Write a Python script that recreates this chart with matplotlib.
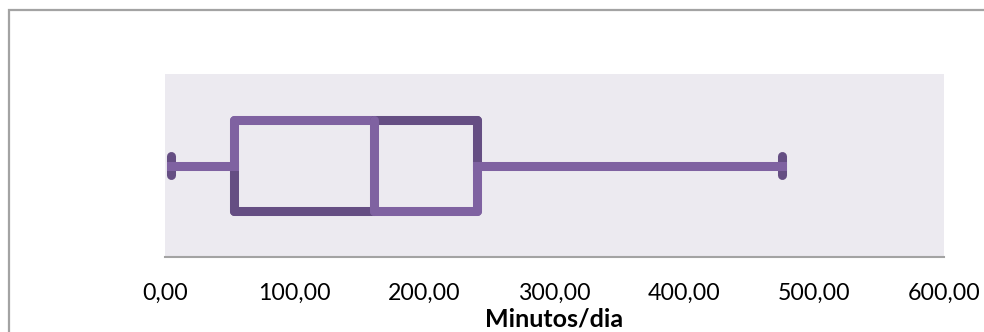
import matplotlib
matplotlib.use("Agg")
import matplotlib.pyplot as plt
from matplotlib.patches import Rectangle

# ---- data (minutes/day) ----
stat_min = 5
stat_q1 = 53
stat_median = 161
stat_q3 = 240
stat_max = 475
tick_values = [0, 100, 200, 300, 400, 500, 600]
tick_labels = ["0,00", "100,00", "200,00", "300,00", "400,00", "500,00", "600,00"]
x_label = "Minutos/dia"

light = "#7F62A1"
dark = "#654E83"
bg = "#ECEAF0"
gray = "#A3A3A3"

plt.rcParams['font.family'] = ['Lato', 'DejaVu Sans']

W, H = 984, 332
fig = plt.figure(figsize=(W / 100, H / 100), dpi=100)
ax = fig.add_axes([165 / W, 75 / H, (944 - 165) / W, (257 - 74) / H])
ax.set_facecolor(bg)
ax.set_xlim(0, 600)
ax.set_ylim(0, 1)

y_lo, y_mid, y_hi = 0.25, 0.5, 0.75
cap_lo, cap_hi = 0.45, 0.55
lw = 6.5

def seg(x0, x1, y0, y1, color, cap="round"):
    ax.plot([x0, x1], [y0, y1], color=color, lw=lw, solid_capstyle=cap,
            solid_joinstyle="round")

# caps
seg(stat_min, stat_min, cap_lo, cap_hi, dark)
seg(stat_max, stat_max, cap_lo, cap_hi, dark)
# lower box (q1..median)
seg(stat_q1, stat_median, y_lo, y_lo, dark)
seg(stat_q1, stat_q1, y_lo, y_mid, dark)
seg(stat_q1, stat_q1, y_mid, y_hi, light)
seg(stat_q1, stat_median, y_hi, y_hi, light)
# upper box (median..q3)
seg(stat_median, stat_q3, y_hi, y_hi, dark)
seg(stat_q3, stat_q3, y_mid, y_hi, dark)
seg(stat_q3, stat_q3, y_lo, y_mid, light)
seg(stat_median, stat_q3, y_lo, y_lo, light)
# median
seg(stat_median, stat_median, y_lo, y_hi, light)
# whiskers
seg(stat_min, stat_q1, y_mid, y_mid, light, cap="projecting")
seg(stat_q3, stat_max, y_mid, y_mid, light, cap="projecting")

for s in ["top", "left", "right"]:
    ax.spines[s].set_visible(False)
ax.spines["bottom"].set_color(gray)
ax.spines["bottom"].set_linewidth(1.5)
ax.set_yticks([])
ax.set_xticks(tick_values)
ax.set_xticklabels(tick_labels)
ax.tick_params(axis="x", length=0, pad=18.5, labelsize=16.7, labelcolor="#000000")
ax.set_xlabel(x_label, fontsize=18, fontweight="bold", labelpad=3)

# chart border
fig.patches.append(Rectangle((9 / W, -0.2), 1.2, (332 - 10) / H + 0.2,
                             transform=fig.transFigure, fill=False,
                             edgecolor=gray, lw=1.6))

fig.savefig("out.png", dpi=100)
